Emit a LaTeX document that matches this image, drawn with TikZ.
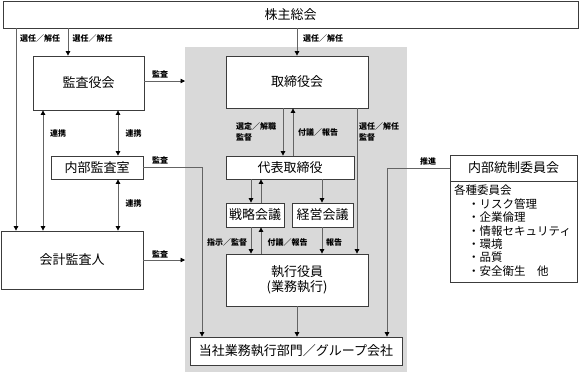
\documentclass[tikz,border=0pt]{standalone}
\usepackage{fontspec}
\setmainfont{Noto Sans CJK JP}
\usetikzlibrary{arrows.meta}
\definecolor{bggray}{RGB}{217,217,217}
\definecolor{linec}{RGB}{100,100,100}
\definecolor{boxc}{RGB}{60,60,60}
\begin{document}
\begin{tikzpicture}[x=1pt,y=-1pt,
  box/.style={draw=boxc, fill=white, line width=0.8pt, inner sep=0pt, align=center, font=\fontsize{13}{15}\selectfont},
  tip/.tip={Triangle[length=4.5pt,width=4.5pt,color=black]},
  conn/.style={draw=linec, line width=0.8pt, -tip},
  both/.style={draw=linec, line width=0.8pt, tip-tip},
  lbl/.style={font=\fontsize{8}{11}\selectfont\bfseries, inner sep=0pt, align=left}]
\useasboundingbox (0,0) rectangle (580,373);
\fill[white] (0,0) rectangle (580,373);
\fill[bggray] (185,47) rectangle (407,372);
% boxes
\node[box, minimum width=575pt, minimum height=27pt] (sh) at (290.5,14.5) {株主総会};
\node[box, minimum width=111pt, minimum height=54pt] (kansa) at (88.5,83) {監査役会};
\node[box, minimum width=92pt, minimum height=23pt] (naibu) at (97,167.5) {内部監査室};
\node[box, minimum width=142pt, minimum height=58pt] (kaikei) at (72,260) {会計監査人};
\node[box, minimum width=142pt, minimum height=52pt] (tori) at (297,82) {取締役会};
\node[box, minimum width=128pt, minimum height=23pt] (daihyo) at (290,167.5) {代表取締役};
\node[box, minimum width=58pt, minimum height=24pt] (senryaku) at (255,215) {戦略会議};
\node[box, minimum width=61pt, minimum height=24pt] (keiei) at (322.5,215) {経営会議};
\node[box, minimum width=142pt, minimum height=52pt] (shikko) at (297,280) {執行役員\\(業務執行)};
\node[box, minimum width=212pt, minimum height=28pt] (tosha) at (296,351) {当社業務執行部門／グループ会社};
\node[box, minimum width=127pt, minimum height=26pt] (tosei) at (513.5,168) {内部統制委員会};
\node[box, minimum width=127pt, minimum height=101pt, anchor=north] (kakushu) at (513.5,181) {};
\node[anchor=north west, inner sep=0pt, align=left, font=\fontsize{11.5}{13.4}\selectfont] (items) at (454,185)
  {各種委員会\\
   \hspace*{14pt}・リスク管理\\
   \hspace*{14pt}・企業倫理\\
   \hspace*{14pt}・情報セキュリティ\\
   \hspace*{14pt}・環境\\
   \hspace*{14pt}・品質\\
   \hspace*{14pt}・安全衛生　他};
% free ends on the grey area
\coordinate (g1) at (185,81);
\coordinate (g2) at (185,260);
% connectors
\draw[conn] (16,0 |- sh.south) -- (16,0 |- kaikei.north);
\draw[conn] (68,0 |- sh.south) -- (68,0 |- kansa.north);
\draw[conn] (sh.south -| tori.north) -- (tori.north);
\draw[conn] (kansa.east |- g1) -- (g1);
\draw[both] (43,0 |- kansa.south) -- (43,0 |- kaikei.north);
\draw[both] (118,0 |- kansa.south) -- (118,0 |- naibu.north);
\draw[both] (118,0 |- naibu.south) -- (118,0 |- kaikei.north);
\draw[conn] (naibu.east) -| (202,0 |- tosha.north);
\draw[conn] (kaikei.east |- g2) -- (g2);
\draw[conn] (283,0 |- tori.south) -- (283,0 |- daihyo.north);
\draw[conn] (293,0 |- daihyo.north) -- (293,0 |- tori.south);
\draw[conn] (357,0 |- tori.south) -- (357,0 |- shikko.north);
\draw[conn] (251,0 |- daihyo.south) -- (251,0 |- senryaku.north);
\draw[conn] (261,0 |- senryaku.north) -- (261,0 |- daihyo.south);
\draw[conn] (322,0 |- daihyo.south) -- (322,0 |- keiei.north);
\draw[conn] (251,0 |- senryaku.south) -- (251,0 |- shikko.north);
\draw[conn] (261,0 |- shikko.north) -- (261,0 |- senryaku.south);
\draw[conn] (322,0 |- keiei.south) -- (322,0 |- shikko.north);
\draw[conn] (shikko.south) -- (shikko.south |- tosha.north);
\draw[conn] (tosei.west) -| (387,0 |- tosha.north);
% labels
\node[lbl] (l1) at (40,38) {選任／解任};
\node[lbl] (l2) at (92.5,38) {選任／解任};
\node[lbl] (l3) at (323,38) {選任／解任};
\node[lbl] (l4) at (160,74) {監査};
\node[lbl] (l5) at (58,133) {連携};
\node[lbl] (l6) at (133.5,133) {連携};
\node[lbl] (l7) at (133.5,203) {連携};
\node[lbl] (l8) at (160,160) {監査};
\node[lbl] (l9) at (160,254) {監査};
\node[lbl, anchor=west] (l10) at (236,131.5) {選定／解職\\監督};
\node[lbl] (l11) at (318,132) {付議／報告};
\node[lbl, anchor=west] (l12) at (359,131.5) {選任／解任\\監督};
\node[lbl] (l13) at (227,242) {指示／監督};
\node[lbl] (l14) at (287.5,242) {付議／報告};
\node[lbl] (l15) at (334,242) {報告};
\node[lbl] (l16) at (428,161) {推進};
\end{tikzpicture}
\end{document}
